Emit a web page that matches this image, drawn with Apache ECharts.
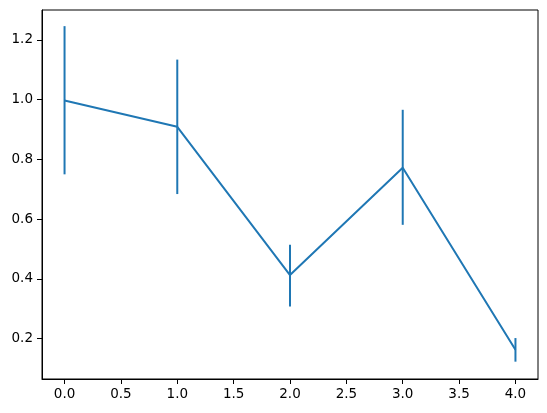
<!DOCTYPE html>
<html>
<head>
<meta charset="utf-8">
<script src="https://cdn.jsdelivr.net/npm/echarts@6/dist/echarts.min.js"></script>
<style>
  html, body { margin: 0; padding: 0; background: #fff; }
  #chart { width: 547px; height: 413px; }
</style>
</head>
<body>
<div id="chart"></div>
<script>
  // data
  var xs = [0, 1, 2, 3, 4];
  var ys = [0.997, 0.909, 0.413, 0.772, 0.163];
  var lower = [0.750, 0.684, 0.308, 0.581, 0.123];
  var upper = [1.246, 1.134, 0.514, 0.966, 0.202];
  var xTicks = [0, 0.5, 1, 1.5, 2, 2.5, 3, 3.5, 4];
  var yTicks = [0.2, 0.4, 0.6, 0.8, 1.0, 1.2];

  var blue = '#1f77b4';
  var font = 'DejaVu Sans';

  var lineData = xs.map(function (x, i) { return [x, ys[i]]; });
  var errData = xs.map(function (x, i) { return [x, lower[i], upper[i]]; });

  var mychart = echarts.init(document.getElementById('chart'));
  mychart.setOption({
    animation: false,
    grid: {
      left: 42, right: 9, top: 10, bottom: 34,
      show: true, borderColor: '#000', borderWidth: 1
    },
    xAxis: {
      type: 'value', min: -0.2, max: 4.2,
      splitLine: { show: false },
      axisLine: { show: true, onZero: false, lineStyle: { color: '#000', width: 1 } },
      axisTick: { show: true, length: 5, customValues: xTicks, lineStyle: { color: '#000' } },
      axisLabel: {
        customValues: xTicks, margin: 8, color: '#000', fontFamily: font, fontSize: 13.5,
        formatter: function (v) { return v.toFixed(1); }
      }
    },
    yAxis: {
      type: 'value', min: 0.065, max: 1.3,
      splitLine: { show: false },
      axisLine: { show: true, onZero: false, lineStyle: { color: '#000', width: 1 } },
      axisTick: { show: true, length: 5, customValues: yTicks, lineStyle: { color: '#000' } },
      axisLabel: {
        customValues: yTicks, margin: 9, color: '#000', fontFamily: font, fontSize: 13.5,
        formatter: function (v) { return v.toFixed(1); }
      }
    },
    series: [
      {
        type: 'custom',
        data: errData,
        renderItem: function (params, api) {
          var top = api.coord([api.value(0), api.value(2)]);
          var bot = api.coord([api.value(0), api.value(1)]);
          return {
            type: 'line',
            shape: { x1: top[0], y1: top[1], x2: bot[0], y2: bot[1] },
            style: { stroke: blue, lineWidth: 2 }
          };
        }
      },
      {
        type: 'line',
        data: lineData,
        showSymbol: false,
        lineStyle: { color: blue, width: 2 },
        itemStyle: { color: blue }
      }
    ]
  });
</script>
</body>
</html>
